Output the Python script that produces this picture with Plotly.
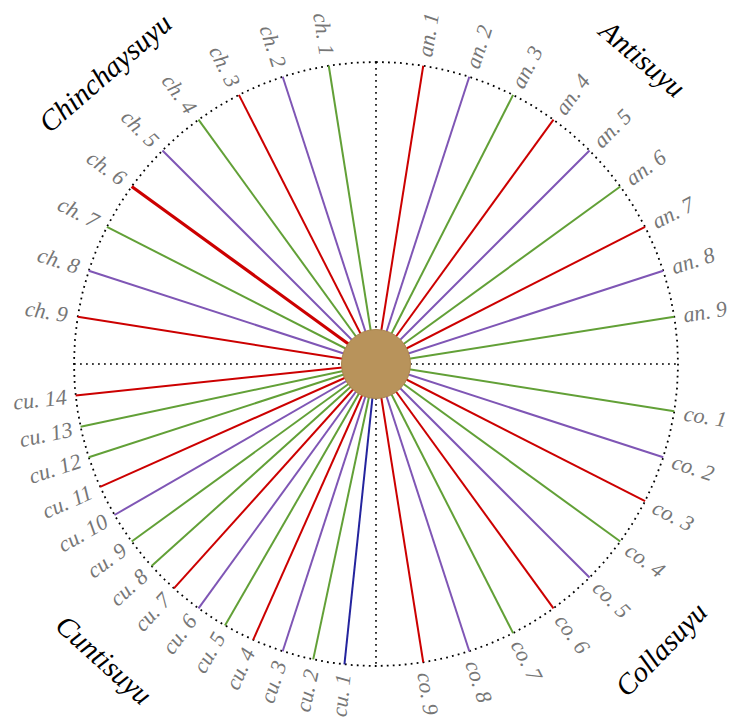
import math
import plotly.graph_objects as go

# ---- data ----
quadrants = ["Antisuyu", "Collasuyu", "Cuntisuyu", "Chinchaysuyu"]
antisuyu_labels = ["an. 1", "an. 2", "an. 3", "an. 4", "an. 5", "an. 6", "an. 7", "an. 8", "an. 9"]
antisuyu_colors = ["red", "purple", "green", "red", "purple", "green", "red", "purple", "green"]
collasuyu_labels = ["co. 1", "co. 2", "co. 3", "co. 4", "co. 5", "co. 6", "co. 7", "co. 8", "co. 9"]
collasuyu_colors = ["green", "purple", "red", "green", "purple", "red", "green", "purple", "red"]
cuntisuyu_labels = ["cu. 1", "cu. 2", "cu. 3", "cu. 4", "cu. 5", "cu. 6", "cu. 7",
                    "cu. 8", "cu. 9", "cu. 10", "cu. 11", "cu. 12", "cu. 13", "cu. 14"]
cuntisuyu_colors = ["blue", "green", "purple", "red", "green", "purple", "red",
                    "green", "green", "purple", "red", "green", "green", "red"]
# Chinchaysuyu is numbered counter-clockwise from north
chinchaysuyu_labels = ["ch. 1", "ch. 2", "ch. 3", "ch. 4", "ch. 5", "ch. 6", "ch. 7", "ch. 8", "ch. 9"]
chinchaysuyu_colors = ["green", "purple", "red", "green", "purple", "red", "green", "purple", "red"]
chinchaysuyu_bold = ["ch. 6"]

# ---- style ----
PALETTE = {"red": "#cc0000", "purple": "#7f56b5", "green": "#62a037", "blue": "#24249e"}
R = 302          # outer radius (px units)
HUB_R = 34.5
LABEL_FONT = "Liberation Serif"
W, H = 736, 719
CX, CY = 368, 356  # centre in figure pixel coords (page adds an 8px body margin)

def polar(theta_deg, r):
    t = math.radians(theta_deg)
    return r * math.sin(t), r * math.cos(t)

# build ceque list: (label, color, angle from north clockwise)
ceques = []
for i, (lab, col) in enumerate(zip(antisuyu_labels, antisuyu_colors)):
    ceques.append((lab, col, 0 + 90 * (i + 1) / (len(antisuyu_labels) + 1)))
for i, (lab, col) in enumerate(zip(collasuyu_labels, collasuyu_colors)):
    ceques.append((lab, col, 90 + 90 * (i + 1) / (len(collasuyu_labels) + 1)))
for i, (lab, col) in enumerate(zip(cuntisuyu_labels, cuntisuyu_colors)):
    ceques.append((lab, col, 180 + 90 * (i + 1) / (len(cuntisuyu_labels) + 1)))
for i, (lab, col) in enumerate(zip(chinchaysuyu_labels, chinchaysuyu_colors)):
    ceques.append((lab, col, 360 - 90 * (i + 1) / (len(chinchaysuyu_labels) + 1)))

fig = go.Figure()

DOT = "1.8px,4.2px"
# dotted circle and cross
circ_t = [k * 0.5 for k in range(721)]
fig.add_trace(go.Scatter(
    x=[polar(t, R)[0] for t in circ_t], y=[polar(t, R)[1] for t in circ_t],
    mode="lines", line=dict(color="black", width=1.8, dash=DOT), hoverinfo="skip"))
fig.add_trace(go.Scatter(x=[0, 0, None, -R, R], y=[R, -R, None, 0, 0], mode="lines",
                         line=dict(color="black", width=1.6, dash=DOT), hoverinfo="skip"))

# ceque lines grouped by colour
for cname, hexc in PALETTE.items():
    xs, ys = [], []
    for lab, col, th in ceques:
        if col == cname and lab not in chinchaysuyu_bold:
            x1, y1 = polar(th, R)
            xs += [0, x1, None]
            ys += [0, y1, None]
    if xs:
        fig.add_trace(go.Scatter(x=xs, y=ys, mode="lines",
                                 line=dict(color=hexc, width=2), hoverinfo="skip"))
for lab, col, th in ceques:
    if lab in chinchaysuyu_bold:
        x1, y1 = polar(th, R)
        fig.add_trace(go.Scatter(x=[0, x1], y=[0, y1], mode="lines",
                                 line=dict(color=PALETTE[col], width=3.2), hoverinfo="skip"))

# hub
fig.add_shape(type="circle", x0=-HUB_R, y0=-HUB_R, x1=HUB_R, y1=HUB_R,
              fillcolor="#b8935b", line=dict(color="#a9844d", width=1), layer="above")

# ceque labels
for lab, col, th in ceques:
    est_len = 8.6 * len(lab)
    r_c = R + 10 + est_len / 2
    x, y = polar(th, r_c)
    if th < 180:
        ang = th - 90
    else:
        ang = th + 90 - 360
    fig.add_annotation(x=x, y=y, text=lab, showarrow=False, textangle=ang,
                       xanchor="center", yanchor="middle",
                       font=dict(family=LABEL_FONT, size=22, color="#767676", style="italic"))

# quadrant titles (position angle, radius, text rotation)
title_pos = {"Antisuyu": (41, 405, 40), "Collasuyu": (135, 403, -46),
             "Cuntisuyu": (222.5, 402, 42), "Chinchaysuyu": (317, 398, -41)}
for q in quadrants:
    th, r, rot = title_pos[q]
    x, y = polar(th, r)
    fig.add_annotation(x=x, y=y, text=q, showarrow=False, textangle=rot,
                       xanchor="center", yanchor="middle",
                       font=dict(family=LABEL_FONT, size=29, color="black", style="italic"))

fig.update_layout(
    width=W, height=H, margin=dict(l=0, r=0, t=0, b=0),
    paper_bgcolor="white", plot_bgcolor="white", showlegend=False,
    xaxis=dict(range=[-CX, W - CX], visible=False, fixedrange=True),
    yaxis=dict(range=[CY - H, CY], visible=False, fixedrange=True),
)
fig.write_html("out.html")
